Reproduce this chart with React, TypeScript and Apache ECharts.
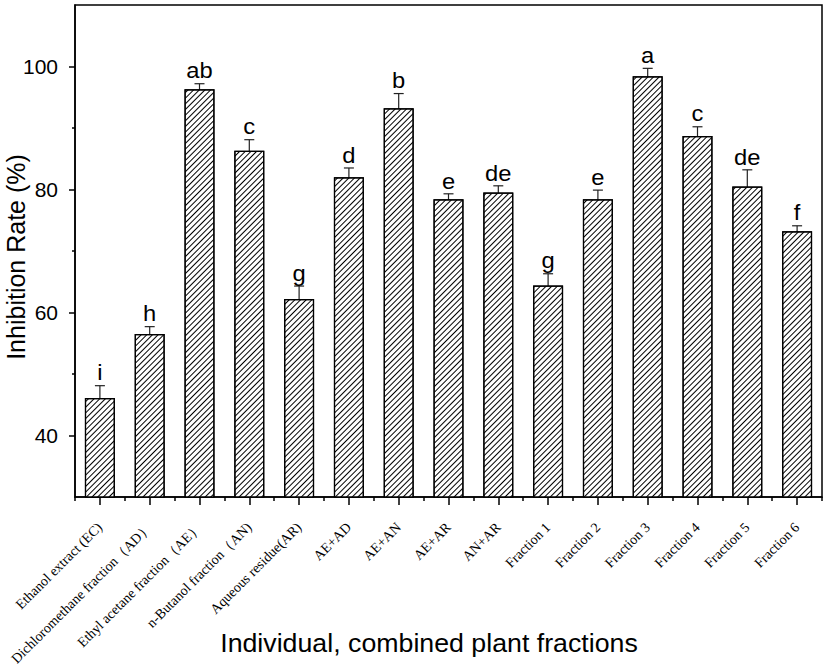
import React, { useEffect, useRef } from "react";
import * as echarts from "echarts";

const categories = [
  "Ethanol extract (EC)",
  "Dichloromethane fraction（AD）",
  "Ethyl acetane fraction（AE）",
  "n-Butanol fraction（AN)",
  "Aqueous residue(AR)",
  "AE+AD",
  "AE+AN",
  "AE+AR",
  "AN+AR",
  "Fraction 1",
  "Fraction 2",
  "Fraction 3",
  "Fraction 4",
  "Fraction 5",
  "Fraction 6",
];
const values = [46.1, 56.5, 96.3, 86.3, 62.2, 82.0, 93.2, 78.4, 79.5, 64.4, 78.4, 98.4, 88.7, 80.5, 73.2];
const errors = [2.0, 1.2, 0.9, 1.8, 2.1, 1.5, 2.4, 0.9, 1.1, 1.9, 1.5, 1.3, 1.5, 2.7, 0.9];
const letters = ["i", "h", "ab", "c", "g", "d", "b", "e", "de", "g", "e", "a", "c", "de", "f"];
const majorTicks = [40, 60, 80, 100];
const minorTicks = [50, 70, 90];
const yTitle = "Inhibition Rate (%)";
const xTitle = "Individual, combined plant fractions";

const SANS = "'Liberation Sans', Arial, sans-serif";
const SERIF = "'Liberation Serif', 'Times New Roman', serif";

export default function App() {
  const ref = useRef<HTMLDivElement>(null);
  useEffect(() => {
    if (!ref.current) return;
    const chart = echarts.init(ref.current, null, { renderer: "svg" });
    const option: any = {
      animation: false,
      backgroundColor: "#fff",
      grid: {
        left: 75,
        right: 7,
        top: 5,
        bottom: 174,
        containLabel: false,
        outerBoundsMode: "none",
        show: true,
        borderColor: "#000",
        borderWidth: 1.5,
        backgroundColor: "transparent",
      },
      xAxis: [
        {
          type: "category",
          data: categories,
          position: "bottom",
          axisLine: { show: true, lineStyle: { color: "#000", width: 1.5 } },
          axisTick: { show: true, alignWithLabel: true, length: 8, lineStyle: { color: "#000", width: 1.5 } },
          axisLabel: {
            interval: 0,
            rotate: 45,
            margin: 28,
            fontFamily: SERIF,
            fontSize: 14,
            color: "#000",
          },
          splitLine: { show: false },
        },
        {
          type: "category",
          data: categories,
          position: "bottom",
          axisLine: { show: false },
          axisTick: { show: true, alignWithLabel: false, interval: 0, length: 4, lineStyle: { color: "#000", width: 1.5 } },
          axisLabel: { show: false },
          splitLine: { show: false },
        },
      ],
      yAxis: [
        {
          type: "value",
          min: 30,
          max: 110,
          interval: 10,
          position: "left",
          axisLine: { show: true, lineStyle: { color: "#000", width: 1.5 } },
          axisTick: { show: true, length: 6, customValues: majorTicks, lineStyle: { color: "#000", width: 1.5 } },
          axisLabel: {
            customValues: majorTicks,
            margin: 17,
            fontFamily: SANS,
            fontSize: 21,
            color: "#000",
          },
          splitLine: { show: false },
        },
        {
          type: "value",
          min: 30,
          max: 110,
          interval: 10,
          position: "left",
          axisLine: { show: false },
          axisTick: { show: true, length: 3, customValues: minorTicks, lineStyle: { color: "#000", width: 1.5 } },
          axisLabel: { show: false },
          splitLine: { show: false },
        },
      ],
      graphic: [
        {
          type: "text",
          x: 16,
          y: 257,
          rotation: Math.PI / 2,
          style: {
            text: yTitle,
            font: `25px ${SANS}`,
            fill: "#000",
            textAlign: "center",
            textVerticalAlign: "middle",
          },
        },
        {
          type: "text",
          x: 429,
          y: 643,
          scaleX: 1.07,
          style: {
            text: xTitle,
            font: `25px ${SANS}`,
            fill: "#000",
            textAlign: "center",
            textVerticalAlign: "middle",
          },
        },
      ],
      series: [
        {
          type: "bar",
          xAxisIndex: 0,
          yAxisIndex: 0,
          data: values,
          barWidth: 30,
          itemStyle: {
            color: "#fff",
            borderColor: "#000",
            borderWidth: 1.2,
            decal: {
              symbol: "rect",
              symbolSize: 1,
              dashArrayX: [1, 0],
              dashArrayY: [1, 3],
              rotation: -Math.PI / 4,
              color: "#000",
            },
          },
        },
        {
          type: "custom",
          xAxisIndex: 0,
          yAxisIndex: 0,
          data: values.map((v, i) => [i, v, errors[i]]),
          renderItem: (params: any, api: any) => {
            const i = api.value(0);
            const v = api.value(1);
            const e = api.value(2);
            const idx = params.dataIndex;
            const top = api.coord([i, v + e]);
            const bot = api.coord([i, v - e]);
            const cap = 5;
            const ls = { stroke: "#222", lineWidth: 1.2 };
            return {
              type: "group",
              children: [
                { type: "line", shape: { x1: top[0], y1: top[1], x2: bot[0], y2: bot[1] }, style: ls },
                { type: "line", shape: { x1: top[0] - cap, y1: top[1], x2: top[0] + cap, y2: top[1] }, style: ls },
                { type: "line", shape: { x1: bot[0] - cap, y1: bot[1], x2: bot[0] + cap, y2: bot[1] }, style: ls },
                {
                  type: "text",
                  x: top[0],
                  y: top[1] - 2,
                  scaleX: 1.08,
                  style: {
                    text: letters[idx],
                    font: `22px ${SANS}`,
                    fill: "#000",
                    textAlign: "center",
                    textVerticalAlign: "bottom",
                  },
                },
              ],
            };
          },
        },
      ],
    };
    chart.setOption(option);
    return () => chart.dispose();
  }, []);
  return (
    <div
      ref={ref}
      style={{ position: "absolute", left: 0, top: 0, width: 829, height: 671 }}
    />
  );
}
